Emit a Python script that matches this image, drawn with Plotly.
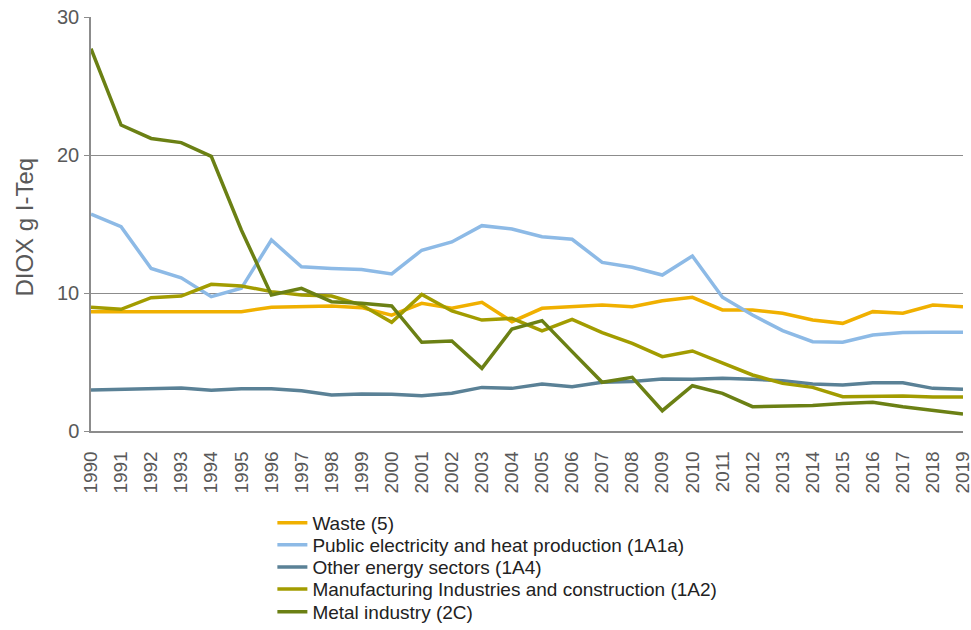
import plotly.graph_objects as go

years = list(range(1990, 2020))

waste = [8.65, 8.65, 8.65, 8.67, 8.63, 8.65, 8.96, 8.98, 9.06, 8.94,
         8.40, 9.25, 8.89, 9.32, 7.92, 8.89, 8.98, 9.13, 9.01, 9.44,
         9.69, 8.77, 8.77, 8.53, 8.04, 7.80, 8.65, 8.53, 9.13, 9.01]

public_elec = [15.72, 14.80, 11.78, 11.10, 9.73, 10.34, 13.84, 11.90, 11.78, 11.70,
               11.38, 13.10, 13.70, 14.88, 14.64, 14.08, 13.89, 12.22, 11.86, 11.30,
               12.68, 9.69, 8.40, 7.27, 6.47, 6.43, 6.96, 7.13, 7.15, 7.15]

other_energy = [2.97, 3.00, 3.07, 3.12, 2.95, 3.07, 3.07, 2.92, 2.61, 2.68,
                2.66, 2.56, 2.73, 3.16, 3.09, 3.40, 3.21, 3.53, 3.58, 3.77,
                3.75, 3.82, 3.75, 3.65, 3.40, 3.33, 3.50, 3.50, 3.09, 3.02]

manufacturing = [8.96, 8.82, 9.66, 9.78, 10.63, 10.51, 10.10, 9.86, 9.78, 9.13,
                 7.87, 9.90, 8.70, 8.04, 8.16, 7.25, 8.09, 7.13, 6.35, 5.39,
                 5.80, 4.90, 4.06, 3.45, 3.16, 2.49, 2.49, 2.54, 2.47, 2.47]

metal = [27.7, 22.17, 21.2, 20.9, 19.9, 14.57, 9.86, 10.34, 9.37, 9.25,
         9.06, 6.43, 6.52, 4.54, 7.39, 8.00, 5.75, 3.53, 3.89, 1.47,
         3.28, 2.73, 1.76, 1.81, 1.84, 2.00, 2.08, 1.76, 1.47, 1.23]

series_names = [
    "Waste (5)",
    "Public electricity and heat production (1A1a)",
    "Other energy sectors (1A4)",
    "Manufacturing Industries and construction (1A2)",
    "Metal industry (2C)",
]
series_values = [waste, public_elec, other_energy, manufacturing, metal]
colors = ["#F0B000", "#8DBAE6", "#5A8196", "#A29C00", "#6B8014"]
y_tick_values = [0, 10, 20, 30]
y_title = "DIOX g I-Teq"

# one small legend per series so the rows can sit as tightly as in the reference
legend_ids = ["legend", "legend2", "legend3", "legend4", "legend5"]
legend_rows_y = [-0.222, -0.275, -0.329, -0.382, -0.437]

fig = go.Figure()
for name, vals, col, lid in zip(series_names, series_values, colors, legend_ids):
    fig.add_trace(go.Scatter(x=years, y=vals, mode="lines", name=name,
                             legend=lid,
                             line=dict(color=col, width=3.5)))

grey = "#595959"
axis_grey = "#8C8C8C"
legend_layout = {}
for lid, ly in zip(legend_ids, legend_rows_y):
    legend_layout[lid] = dict(x=0.208, y=ly, xanchor="left", yanchor="middle",
                              font=dict(size=19, color="#222222"),
                              bgcolor="rgba(0,0,0,0)", borderwidth=0)

fig.update_layout(
    width=971, height=630,
    margin=dict(l=91, r=8, t=17, b=199, autoexpand=False),
    paper_bgcolor="white", plot_bgcolor="white",
    font=dict(family="Liberation Sans, Arial, sans-serif", color=grey),
    showlegend=True,
    xaxis=dict(range=[1990, 2019], tickmode="array", tickvals=years,
               ticktext=[str(y) for y in years], tickangle=-90,
               tickfont=dict(size=19, color=grey), showgrid=False,
               showline=True, linecolor=axis_grey, linewidth=1.5,
               ticks="outside", ticklen=11, tickcolor="rgba(0,0,0,0)",
               zeroline=False, automargin=False, ticklabeloverflow="allow"),
    yaxis=dict(range=[0, 30], tickvals=y_tick_values,
               tickfont=dict(size=20, color=grey), showgrid=True,
               gridcolor=axis_grey, gridwidth=1, showline=True,
               linecolor=axis_grey, linewidth=1.5, ticks="outside",
               ticklen=5, tickcolor=axis_grey, zeroline=False,
               automargin=False, ticklabelstandoff=1,
               ticklabeloverflow="allow"),
    annotations=[dict(text=y_title, xref="paper", yref="paper",
                      x=-0.0768, y=0.4915, xanchor="center", yanchor="middle",
                      textangle=-90, showarrow=False,
                      font=dict(size=24, color=grey))],
    **legend_layout,
)

# remove the browser's default 8px page margin so the 971x630 figure fills the window
fig.write_html("out.html",
               config={"displayModeBar": False},
               post_script="document.body.style.margin='0';")
